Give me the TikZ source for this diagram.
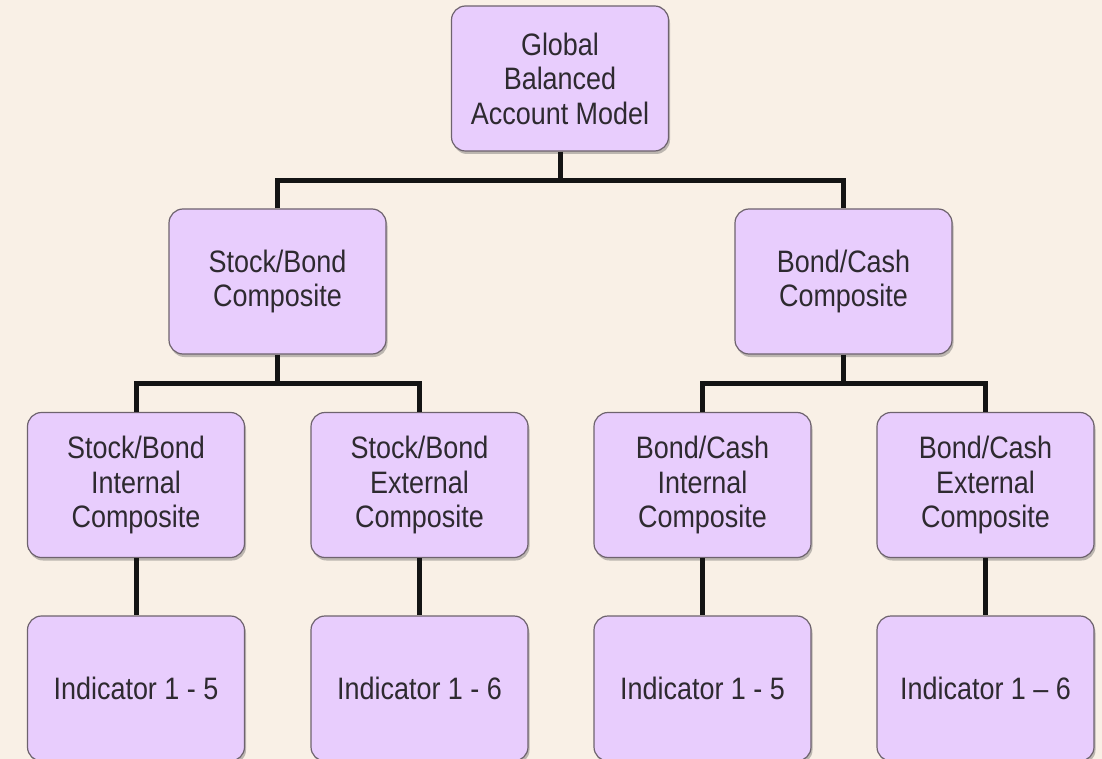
\documentclass[tikz,border=0pt]{standalone}
\usepackage{fontspec}
\setmainfont{Liberation Sans}[FakeStretch=0.87]
\usetikzlibrary{shadows}
\definecolor{bgc}{HTML}{F9F0E6}
\definecolor{boxfill}{HTML}{E8CDFD}
\definecolor{boxline}{HTML}{6E636E}
\definecolor{txt}{HTML}{2E2A30}
\tikzset{
  orgbox/.style={rectangle, rounded corners=14pt, minimum width=217pt, minimum height=145pt,
    inner sep=0pt, fill=boxfill, draw=boxline, line width=1.2pt, align=center, text=txt,
    font=\fontsize{31}{34.5}\selectfont,
    drop shadow={shadow xshift=1.5pt, shadow yshift=-3pt, opacity=0.35, fill=black!70}},
  conn/.style={line width=5pt, draw=black!92}
}
\begin{document}
\begin{tikzpicture}[x=1pt,y=-1pt]
\fill[bgc] (0,0) rectangle (1102,759);
\useasboundingbox (0,0) rectangle (1102,759);
\clip (0,0) rectangle (1102,759);
% junction coordinates
\coordinate (j1) at (560,181);
\coordinate (j2) at (277,383);
\coordinate (j3) at (843,383);
% connectors first (under boxes)
\node[orgbox] (top) at (560,78.5) {Global\\Balanced\\Account Model};
\node[orgbox] (sb) at (277.5,281.5) {Stock/Bond\\Composite};
\node[orgbox] (bc) at (843.5,281.5) {Bond/Cash\\Composite};
\node[orgbox] (sbi) at (136,485) {Stock/Bond\\Internal\\Composite};
\node[orgbox] (sbe) at (419.5,485) {Stock/Bond\\External\\Composite};
\node[orgbox] (bci) at (702.5,485) {Bond/Cash\\Internal\\Composite};
\node[orgbox] (bce) at (985.5,485) {Bond/Cash\\External\\Composite};
\node[orgbox] (i1) at (136,688.5) {Indicator 1 - 5};
\node[orgbox] (i2) at (419.5,688.5) {Indicator 1 - 6};
\node[orgbox] (i3) at (702.5,688.5) {Indicator 1 - 5};
\node[orgbox] (i4) at (985.5,688.5) {Indicator 1 – 6};
% connectors
\draw[conn] (top.south) -- (top.south |- j1);
\draw[conn] (sb.north) |- (j1) -| (bc.north);
\draw[conn] (sb.south) -- (sb.south |- j2);
\draw[conn] (sbi.north) |- (j2) -| (sbe.north);
\draw[conn] (bc.south) -- (bc.south |- j3);
\draw[conn] (bci.north) |- (j3) -| (bce.north);
\draw[conn] (sbi.south) -- (i1.north);
\draw[conn] (sbe.south) -- (i2.north);
\draw[conn] (bci.south) -- (i3.north);
\draw[conn] (bce.south) -- (i4.north);
\end{tikzpicture}
\end{document}
